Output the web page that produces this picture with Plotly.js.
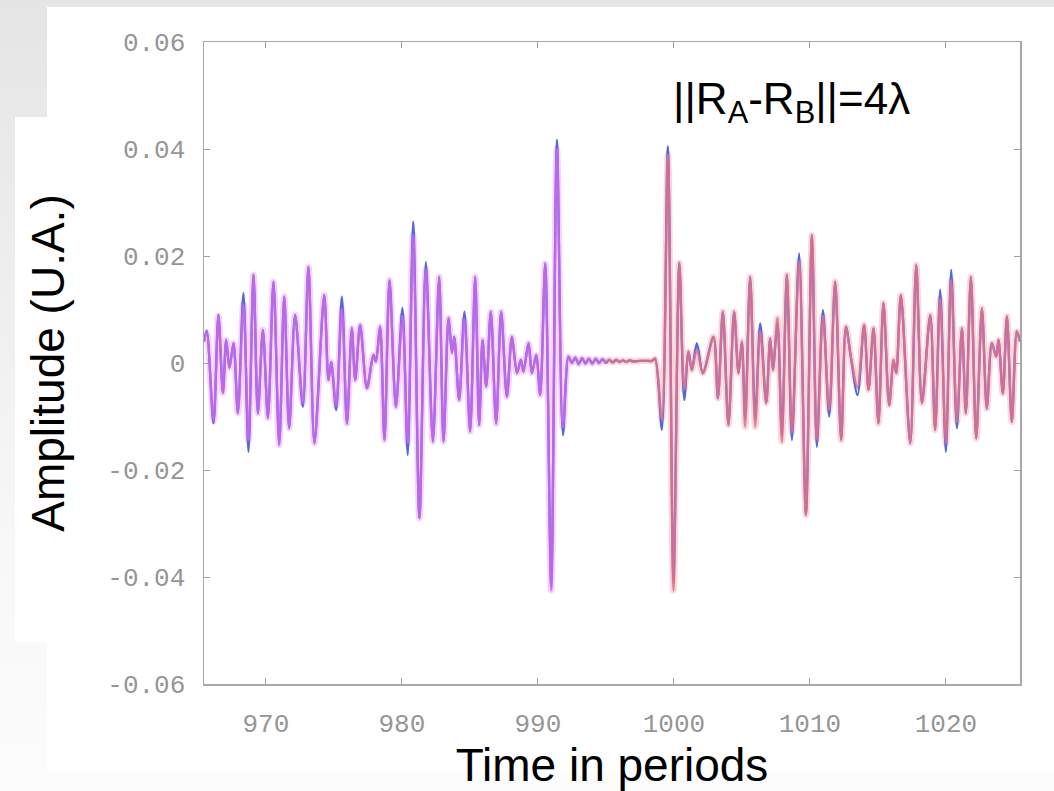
<!DOCTYPE html>
<html>
<head>
<meta charset="utf-8">
<script src="https://cdn.plot.ly/plotly-3.0.1.min.js"></script>
<style>
  html, body { margin: 0; padding: 0; width: 1054px; height: 791px; overflow: hidden;
    background: linear-gradient(to bottom, #e5e5e5 0%, #eeeeee 35%, #f8f8f8 70%, #fcfcfc 100%); }
  #chart { width: 1054px; height: 791px; }
</style>
</head>
<body>
<div id="chart"></div>
<script>
// ---- data (extrema) ----
const timePeriods = [
  965.45, 965.65, 966.15, 966.51, 966.84, 967.08, 967.32, 967.62, 967.94, 968.35,
  968.72, 969.09, 969.41, 969.78, 970.15, 970.56, 970.98, 971.35, 971.71, 972.15,
  972.72, 973.13, 973.57, 974.29, 974.60, 974.80, 975.17, 975.59, 975.96, 976.32,
  976.57, 976.93, 977.43, 977.91, 978.09, 978.40, 978.72, 979.09, 979.56, 980.04,
  980.43, 980.83, 981.29, 981.76, 982.28, 982.74, 983.06, 983.43, 983.68, 983.85,
  984.21, 984.60, 985.02, 985.39, 985.68, 985.93, 986.20, 986.54, 986.93, 987.30,
  987.72, 988.09, 988.46, 988.75, 988.94, 989.31, 989.56, 989.88, 990.17, 990.54,
  990.98, 991.40, 991.84, 992.25, 992.50, 992.75, 993.00, 993.25, 993.50, 993.75,
  994.00, 994.25, 994.50, 994.75, 995.00, 995.25, 995.50, 995.75, 996.00, 996.25,
  996.50, 996.75, 997.00, 997.50, 998.00, 998.40, 998.62, 999.12, 999.56, 999.97,
  1000.40, 1000.76, 1001.07, 1001.32, 1001.69, 1002.13, 1002.91, 1003.24, 1003.60, 1004.01,
  1004.43, 1004.75, 1005.00, 1005.24, 1005.61, 1005.98, 1006.35, 1006.79, 1007.08, 1007.28,
  1007.62, 1007.94, 1008.31, 1008.68, 1009.21, 1009.71, 1010.15, 1010.51, 1010.96, 1011.42,
  1011.86, 1012.30, 1012.65, 1013.01, 1013.50, 1013.99, 1014.31, 1014.68, 1015.04, 1015.41,
  1015.83, 1016.15, 1016.35, 1016.69, 1017.38, 1017.82, 1018.24, 1018.85, 1019.21, 1019.58,
  1020.00, 1020.39, 1020.81, 1021.18, 1021.47, 1021.84, 1022.23, 1022.65, 1023.01, 1023.38,
  1023.70, 1023.87, 1024.19, 1024.49, 1024.85, 1025.22, 1025.45
];

// receiver signal drawn in blue
const signalBlue = [
  0.0040, 0.0060, -0.0113, 0.0090, -0.0056, 0.0043, -0.0009, 0.0037, -0.0094, 0.0131,
  -0.0166, 0.0165, -0.0094, 0.0062, -0.0103, 0.0152, -0.0153, 0.0124, -0.0122, 0.0090,
  -0.0082, 0.0180, -0.0150, 0.0127, -0.0032, 0.0002, -0.0088, 0.0124, -0.0113, 0.0065,
  -0.0032, 0.0071, -0.0047, 0.0015, 0.0003, 0.0068, -0.0144, 0.0155, -0.0082, 0.0103,
  -0.0172, 0.0264, -0.0290, 0.0189, -0.0147, 0.0161, -0.0147, 0.0084, 0.0019, 0.0049,
  -0.0069, 0.0096, -0.0128, 0.0161, -0.0116, 0.0043, -0.0044, 0.0096, -0.0113, 0.0096,
  -0.0063, 0.0049, -0.0019, 0.0006, -0.0016, 0.0037, -0.0019, 0.0015, -0.0060, 0.0186,
  -0.0418, 0.0417, -0.0135, 0.0012, 0.0000, 0.0010, -0.0002, 0.0009, -0.0001, 0.0008,
  -0.0001, 0.0008, 0.0000, 0.0007, 0.0000, 0.0006, 0.0001, 0.0006, 0.0002, 0.0005,
  0.0002, 0.0005, 0.0003, 0.0004, 0.0004, 0.0004, 0.0008, -0.0125, 0.0405, -0.0410,
  0.0187, -0.0069, 0.0021, -0.0013, 0.0037, -0.0019, 0.0049, -0.0066, 0.0096, -0.0116,
  0.0096, -0.0019, 0.0040, -0.0105, 0.0161, -0.0105, 0.0074, -0.0075, 0.0046, -0.0013,
  0.0075, -0.0135, 0.0165, -0.0144, 0.0205, -0.0284, 0.0239, -0.0157, 0.0099, -0.0100,
  0.0152, -0.0144, 0.0068, 0.0012, -0.0060, 0.0071, -0.0050, 0.0065, -0.0113, 0.0112,
  -0.0079, 0.0006, -0.0019, 0.0127, -0.0150, 0.0183, -0.0075, 0.0090, -0.0125, 0.0137,
  -0.0166, 0.0174, -0.0122, 0.0065, -0.0094, 0.0161, -0.0141, 0.0102, -0.0085, 0.0037,
  0.0012, 0.0043, -0.0057, 0.0087, -0.0110, 0.0059, 0.0040
];

// second receiver signal (magenta before the gap, red after it)
const signalSecond = [
  0.0040, 0.0058, -0.0108, 0.0088, -0.0056, 0.0043, -0.0009, 0.0037, -0.0094, 0.0110,
  -0.0145, 0.0165, -0.0094, 0.0062, -0.0103, 0.0152, -0.0153, 0.0124, -0.0122, 0.0090,
  -0.0075, 0.0180, -0.0150, 0.0127, -0.0032, 0.0002, -0.0080, 0.0102, -0.0113, 0.0065,
  -0.0032, 0.0071, -0.0047, 0.0015, 0.0003, 0.0068, -0.0144, 0.0155, -0.0082, 0.0088,
  -0.0150, 0.0240, -0.0290, 0.0175, -0.0147, 0.0161, -0.0147, 0.0084, 0.0019, 0.0049,
  -0.0069, 0.0082, -0.0128, 0.0161, -0.0116, 0.0043, -0.0044, 0.0096, -0.0113, 0.0096,
  -0.0063, 0.0049, -0.0019, 0.0006, -0.0016, 0.0037, -0.0019, 0.0015, -0.0060, 0.0186,
  -0.0425, 0.0400, -0.0120, 0.0012, 0.0000, 0.0010, -0.0002, 0.0009, -0.0001, 0.0008,
  -0.0001, 0.0008, 0.0000, 0.0007, 0.0000, 0.0006, 0.0001, 0.0006, 0.0002, 0.0005,
  0.0002, 0.0005, 0.0003, 0.0004, 0.0004, 0.0004, 0.0008, -0.0105, 0.0390, -0.0425,
  0.0187, -0.0050, 0.0021, -0.0013, 0.0025, -0.0019, 0.0049, -0.0066, 0.0096, -0.0116,
  0.0096, -0.0019, 0.0040, -0.0119, 0.0161, -0.0119, 0.0060, -0.0075, 0.0046, -0.0013,
  0.0084, -0.0147, 0.0165, -0.0130, 0.0190, -0.0284, 0.0239, -0.0143, 0.0088, -0.0088,
  0.0152, -0.0144, 0.0068, 0.0012, -0.0045, 0.0071, -0.0050, 0.0065, -0.0113, 0.0112,
  -0.0079, 0.0006, -0.0019, 0.0127, -0.0150, 0.0183, -0.0075, 0.0090, -0.0125, 0.0120,
  -0.0150, 0.0155, -0.0110, 0.0065, -0.0094, 0.0161, -0.0141, 0.0102, -0.0085, 0.0037,
  0.0012, 0.0043, -0.0057, 0.0087, -0.0110, 0.0059, 0.0040
];

const colourSwitchTime = 995.0;
const xTickValues = [970, 980, 990, 1000, 1010, 1020];
const xTickLabels = ['970', '980', '990', '1000', '1010', '1020'];
const yTickValues = [-0.06, -0.04, -0.02, 0, 0.02, 0.04, 0.06];
const yTickLabels = ['-0.06', '-0.04', '-0.02', '0', '0.02', '0.04', '0.06'];
const xTitle = 'Time in periods';
const yTitle = 'Amplitude (U.A.)';
const distanceLabel = '||R<sub>A</sub>-R<sub>B</sub>||=4\u03bb';

// ---- split the second signal into its two coloured parts ----
const leftT = [], leftV = [], rightT = [], rightV = [];
timePeriods.forEach((t, i) => {
  if (t <= colourSwitchTime) { leftT.push(t); leftV.push(signalSecond[i]); }
  if (t >= colourSwitchTime) { rightT.push(t); rightV.push(signalSecond[i]); }
});

const common = { type: 'scatter', mode: 'lines', hoverinfo: 'skip', showlegend: false };
const spl = { shape: 'spline', smoothing: 0.85 };
const traces = [
  Object.assign({}, common, { x: leftT, y: leftV, line: Object.assign({ color: 'rgba(240,182,249,0.6)', width: 6.5 }, spl) }),
  Object.assign({}, common, { x: rightT, y: rightV, line: Object.assign({ color: 'rgba(246,188,198,0.6)', width: 6.5 }, spl) }),
  Object.assign({}, common, { name: 'A', x: timePeriods, y: signalBlue, line: Object.assign({ color: '#5068e0', width: 2.3 }, spl) }),
  Object.assign({}, common, { name: 'B', x: leftT, y: leftV, line: Object.assign({ color: 'rgba(204,104,232,0.85)', width: 2.4 }, spl) }),
  Object.assign({}, common, { name: 'B', x: rightT, y: rightV, line: Object.assign({ color: 'rgba(226,114,136,0.85)', width: 2.4 }, spl) })
];

// plot area: x 204..1020, y 42..684 (px)
const W = 816, H = 642, L = 204, T = 42;
const px = v => (v - L) / W;
const py = v => (T + H - v) / H;

const axisCommon = {
  showgrid: false, zeroline: false, showline: true, linecolor: '#a8a8a8', linewidth: 1.5,
  mirror: 'ticks', ticks: 'inside', ticklen: 6, tickwidth: 1, tickcolor: '#a0a0a0',
  tickfont: { family: 'Liberation Mono, DejaVu Sans Mono, monospace', size: 26, color: '#959595' }
};

const layout = {
  width: 1054, height: 791,
  margin: { l: L, r: 1054 - L - W, t: T, b: 791 - T - H, pad: 0 },
  paper_bgcolor: 'rgba(0,0,0,0)', plot_bgcolor: '#ffffff',
  showlegend: false,
  xaxis: Object.assign({}, axisCommon, {
    range: [965.45, 1025.45], tickmode: 'array', tickvals: xTickValues, ticktext: xTickLabels,
    ticklabelstandoff: 15,
    title: { text: xTitle, font: { family: 'Liberation Sans, Arial, sans-serif', size: 46, color: '#000000' }, standoff: 8 }
  }),
  yaxis: Object.assign({}, axisCommon, {
    range: [-0.06, 0.06], tickmode: 'array', tickvals: yTickValues, ticktext: yTickLabels,
    ticklabelstandoff: 12,
    title: { text: yTitle, font: { family: 'Liberation Sans, Arial, sans-serif', size: 46, color: '#000000' }, standoff: 28 }
  }),
  shapes: [
    { type: 'rect', xref: 'paper', yref: 'paper', layer: 'below', x0: px(47), x1: px(1054), y0: py(773), y1: py(7),
      fillcolor: '#ffffff', line: { width: 0 } },
    { type: 'rect', xref: 'paper', yref: 'paper', layer: 'below', x0: px(15), x1: px(87), y0: py(642), y1: py(117),
      fillcolor: '#ffffff', line: { width: 0 } }
  ],
  annotations: [
    { xref: 'paper', yref: 'paper', x: px(671), y: py(102), xanchor: 'left', yanchor: 'middle',
      text: distanceLabel, showarrow: false,
      font: { family: 'Liberation Sans, Arial, sans-serif', size: 44, color: '#000000' } }
  ]
};

Plotly.newPlot('chart', traces, layout, { staticPlot: true, displayModeBar: false });
</script>
</body>
</html>
